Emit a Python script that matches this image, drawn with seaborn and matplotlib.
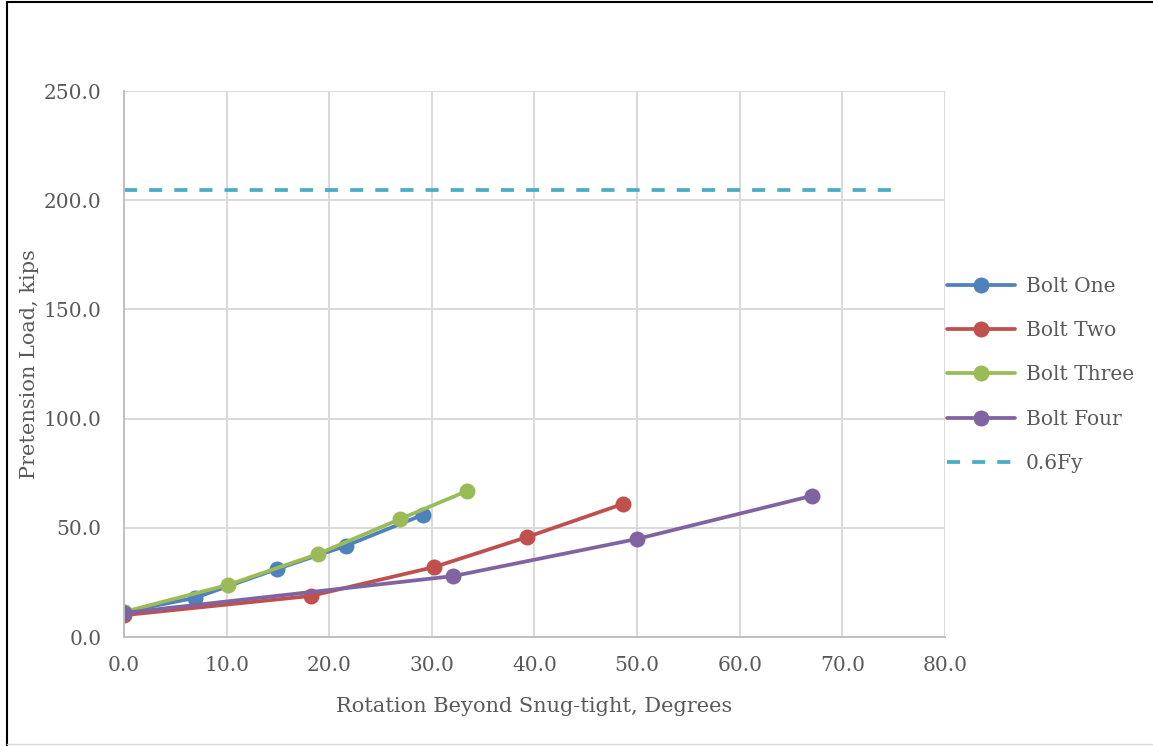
import numpy as np
import pandas as pd
import seaborn as sns
import matplotlib.pyplot as plt
from matplotlib.lines import Line2D

# values
bolt_one_x = [0.0, 6.9, 14.9, 21.6, 29.1]
bolt_one_y = [11.5, 17.9, 31.1, 41.7, 55.9]
bolt_two_x = [0.0, 18.2, 30.2, 39.3, 48.6]
bolt_two_y = [10.0, 18.8, 32.0, 45.8, 60.9]
bolt_three_x = [0.0, 10.1, 18.9, 26.9, 33.4]
bolt_three_y = [11.5, 23.8, 38.0, 54.0, 66.8]
bolt_four_x = [0.0, 32.1, 50.0, 67.0]
bolt_four_y = [11.0, 27.9, 44.9, 64.6]
fy_x = [0.0, 75.0]
fy_y = [204.7, 204.7]

names = ['Bolt One', 'Bolt Two', 'Bolt Three', 'Bolt Four']
colors = ['#4F81BD', '#C0504D', '#9BBB59', '#8064A2']

frames = []
for name, xs, ys in zip(names,
                        [bolt_one_x, bolt_two_x, bolt_three_x, bolt_four_x],
                        [bolt_one_y, bolt_two_y, bolt_three_y, bolt_four_y]):
    frames.append(pd.DataFrame({'rot': xs, 'load': ys, 'bolt': name}))
df = pd.concat(frames, ignore_index=True)
fy = pd.DataFrame({'rot': fy_x, 'load': fy_y})

sns.set_style('white')
plt.rcParams['font.family'] = ['DejaVu Serif']

fig = plt.figure(figsize=(11.53, 7.46), dpi=100)
ax = fig.add_axes([0.1075, 0.1461, 0.7121, 0.7319])

lw = 2.7
ms = 11.5
sns.lineplot(data=df, x='rot', y='load', hue='bolt', hue_order=names,
             palette=colors, marker='o', markersize=ms, markeredgewidth=0,
             linewidth=lw, sort=False, estimator=None, ax=ax, legend=False)
sns.lineplot(data=fy, x='rot', y='load', color='#4BACC6', linewidth=lw,
             ax=ax, legend=False)
ax.lines[-1].set_dashes([3.5, 3.2])

ax.set_xlim(0, 80)
ax.set_ylim(0, 250)
ax.set_xticks(np.arange(0, 81, 10))
ax.set_yticks(np.arange(0, 251, 50))
ax.set_xticklabels(['%.1f' % v for v in np.arange(0, 81, 10)])
ax.set_yticklabels(['%.1f' % v for v in np.arange(0, 251, 50)])
ax.tick_params(axis='x', labelsize=14.5, colors='#595959', length=0, pad=14)
ax.tick_params(axis='y', labelsize=14.5, colors='#595959', length=0, pad=16)
ax.grid(True, color='#D9D9D9', linewidth=1.4)
for s in ['top', 'right']:
    ax.spines[s].set_visible(False)
for s in ['left', 'bottom']:
    ax.spines[s].set_color('#BFBFBF')
    ax.spines[s].set_linewidth(1.4)

ax.set_xlabel('Rotation Beyond Snug-tight, Degrees', fontsize=15, color='#595959')
ax.set_ylabel('Pretension Load, kips', fontsize=15, color='#595959')
ax.xaxis.set_label_coords(0.5, -0.11)
ax.yaxis.set_label_coords(-0.104, 0.5)

handles = [Line2D([], [], color=c, marker='o', markersize=ms, markeredgewidth=0, linewidth=lw)
           for c in colors]
handles.append(Line2D([], [], color='#4BACC6', linewidth=lw, dashes=[3.5, 3.2]))
leg = ax.legend(handles, names + ['0.6Fy'], loc='center left', bbox_to_anchor=(1.0, 0.48),
                frameon=False, fontsize=14.5, handlelength=3.4, handletextpad=0.5,
                labelspacing=1.25, borderaxespad=0.0, borderpad=0.1)
for t in leg.get_texts():
    t.set_color('#595959')

# outer frame like the source
fig.add_artist(Line2D([0.0065, 0.0065], [0, 0.997], color='black', linewidth=1.5))
fig.add_artist(Line2D([0.0065, 1.0], [0.997, 0.997], color='black', linewidth=1.5))
fig.add_artist(Line2D([0.0065, 1.0], [0.003, 0.003], color='#D9D9D9', linewidth=1.0))

fig.savefig('out.png', dpi=100)
